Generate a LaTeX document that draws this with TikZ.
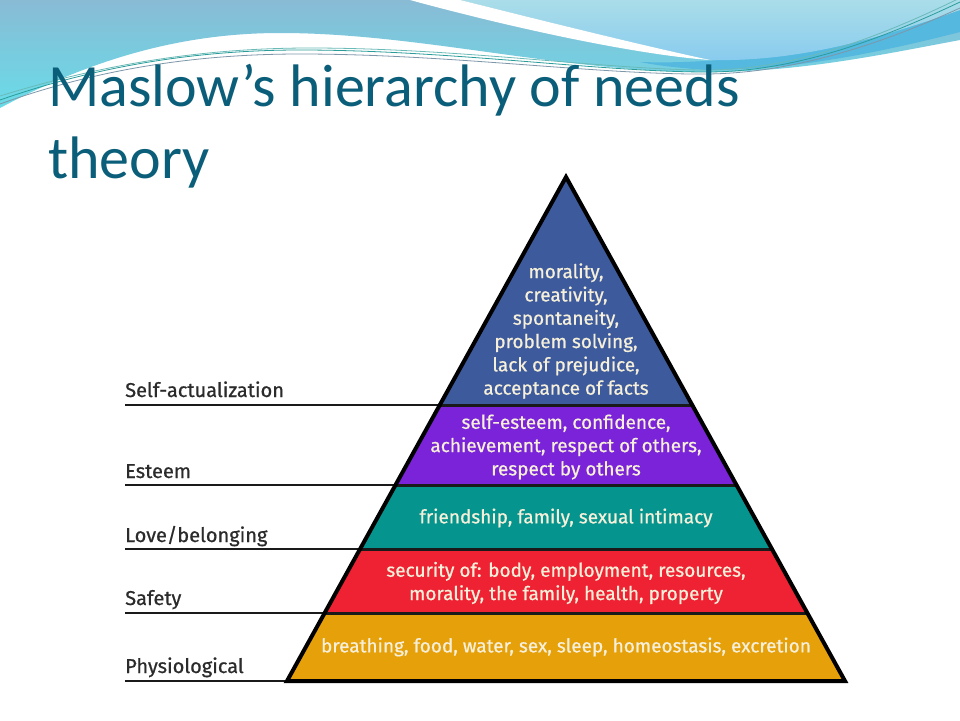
\documentclass[tikz,border=0pt]{standalone}
\usepackage{fontspec}
\setmainfont{Fira Sans}
\newfontfamily\bandfont[FakeBold=0.7]{Fira Sans}
\newfontfamily\titlefont{Carlito}
\usetikzlibrary{calc}
\definecolor{titlecol}{HTML}{0B5E79}
\definecolor{topblue}{HTML}{89BBD5}
\definecolor{topcyan}{HTML}{68DCE8}
\definecolor{blobtop}{HTML}{AADDE9}
\definecolor{blobbot}{HTML}{88CBEE}
\definecolor{midband}{HTML}{55B8DE}
\definecolor{lineteal}{HTML}{2A9D9A}
\definecolor{linegrey}{HTML}{7D97AA}
\definecolor{bandblue}{HTML}{3D5A9C}
\definecolor{bandpurple}{HTML}{7A23D9}
\definecolor{bandteal}{HTML}{06958E}
\definecolor{bandred}{HTML}{EE2233}
\definecolor{bandorange}{HTML}{E6A00A}
\definecolor{bandtext}{HTML}{F6F0DA}
\definecolor{labeltext}{HTML}{2B2B2B}
\definecolor{edgecol}{HTML}{1A1A1A}
\tikzset{
  bandtxt/.style={text=bandtext, font=\bandfont\fontsize{19}{23.3}\selectfont, align=center, inner sep=0pt},
  leveltxt/.style={text=labeltext, font=\bandfont\fontsize{20}{24}\selectfont, anchor=base west, inner sep=0pt},
  labelline/.style={draw=edgecol, line width=2pt},
  sepline/.style={draw=edgecol, line width=3pt},
  outline/.style={draw=black, line width=4pt, line join=miter},
  titletxt/.style={text=titlecol, font=\titlefont\fontsize{60}{70}\selectfont, anchor=base west, inner sep=0pt},
  thinline/.style={line width=0.8pt}
}
\begin{document}
\begin{tikzpicture}[x=1pt,y=-1pt]
\useasboundingbox (0,0) rectangle (960,720);
\fill[white] (0,0) rectangle (960,720);

% --- top decoration ---
\shade[top color=topblue, bottom color=topcyan]
  (0,0) -- (960,0) -- (960,40)
  .. controls (880,55) and (800,72) .. (707,72)
  .. controls (560,72) and (420,33) .. (280,33)
  .. controls (180,33) and (90,60) .. (0,108) -- cycle;
\fill[midband]
  (640,62) .. controls (760,66) and (880,35) .. (960,10)
  -- (960,32) .. controls (870,55) and (790,70) .. (707,70)
  .. controls (680,68) and (660,66) .. (640,62) -- cycle;
\shade[top color=blobtop, bottom color=blobbot]
  (460,0) -- (960,0) -- (960,10)
  .. controls (880,38) and (800,62) .. (710,60)
  .. controls (640,45) and (540,20) .. (460,0) -- cycle;
\fill[white]
  (410,0) -- (460,0)
  .. controls (540,20) and (640,45) .. (710,60)
  .. controls (640,55) and (520,30) .. (410,0) -- cycle;
\draw[thinline, lineteal]
  (0,100) .. controls (100,65) and (200,50) .. (300,50)
  .. controls (450,50) and (600,72) .. (707,72)
  .. controls (800,72) and (890,35) .. (960,2);
\draw[thinline, linegrey]
  (0,104) .. controls (100,68) and (200,54) .. (300,54)
  .. controls (450,54) and (600,75) .. (707,74)
  .. controls (800,73) and (890,40) .. (960,8);
\draw[thinline, lineteal!70!white]
  (0,96) .. controls (110,62) and (210,48) .. (310,48)
  .. controls (460,48) and (610,70) .. (707,70)
  .. controls (800,70) and (890,32) .. (960,-2);

% --- title ---
\node[titletxt] (t1) at (48,106) {Maslow’s hierarchy of needs};
\node[titletxt] (t2) at (48,178) {theory};

% --- pyramid geometry ---
\coordinate (A) at (566,177);
\coordinate (BL) at (287,681);
\coordinate (BR) at (845,681);
\coordinate (L1) at (439.7,405); \coordinate (R1) at (692.3,405);
\coordinate (L2) at (395.4,485); \coordinate (R2) at (736.6,485);
\coordinate (L3) at (359.9,549); \coordinate (R3) at (772.1,549);
\coordinate (L4) at (324.5,613); \coordinate (R4) at (807.5,613);
\coordinate (S1) at (125,405);
\coordinate (S2) at (125,485);
\coordinate (S3) at (125,549);
\coordinate (S4) at (125,613);
\coordinate (S5) at (125,681);

\fill[bandblue] (A) -- (L1) -- (R1) -- cycle;
\fill[bandpurple] (L1) -- (L2) -- (R2) -- (R1) -- cycle;
\fill[bandteal] (L2) -- (L3) -- (R3) -- (R2) -- cycle;
\fill[bandred] (L3) -- (L4) -- (R4) -- (R3) -- cycle;
\fill[bandorange] (L4) -- (BL) -- (BR) -- (R4) -- cycle;

\draw[sepline] (L1) -- (R1);
\draw[sepline] (L2) -- (R2);
\draw[sepline] (L3) -- (R3);
\draw[sepline] (L4) -- (R4);
\draw[labelline] (S1) -- (L1);
\draw[labelline] (S2) -- (L2);
\draw[labelline] (S3) -- (L3);
\draw[labelline] (S4) -- (L4);
\draw[labelline] (S5) -- (BL);
\draw[outline] (A) -- (BL) -- (BR) -- cycle;

% --- band texts ---
\node[bandtxt] (b1) at (566,331) {morality,\\creativity,\\spontaneity,\\problem solving,\\lack of prejudice,\\acceptance of facts};
\node[bandtxt] (b2) at (566,447) {self-esteem, confidence,\\achievement, respect of others,\\respect by others};
\node[bandtxt] (b3) at (566,518) {friendship, family, sexual intimacy};
\node[bandtxt] (b4) at (566,583) {security of: body, employment, resources,\\morality, the family, health, property};
\node[bandtxt] (b5) at (566,647) {breathing, food, water, sex, sleep, homeostasis, excretion};

% --- level labels ---
\node[leveltxt] (n1) at (125,397) {Self-actualization};
\node[leveltxt] (n2) at (125,478) {Esteem};
\node[leveltxt] (n3) at (125,542) {Love/belonging};
\node[leveltxt] (n4) at (125,605) {Safety};
\node[leveltxt] (n5) at (125,673) {Physiological};
\end{tikzpicture}
\end{document}
